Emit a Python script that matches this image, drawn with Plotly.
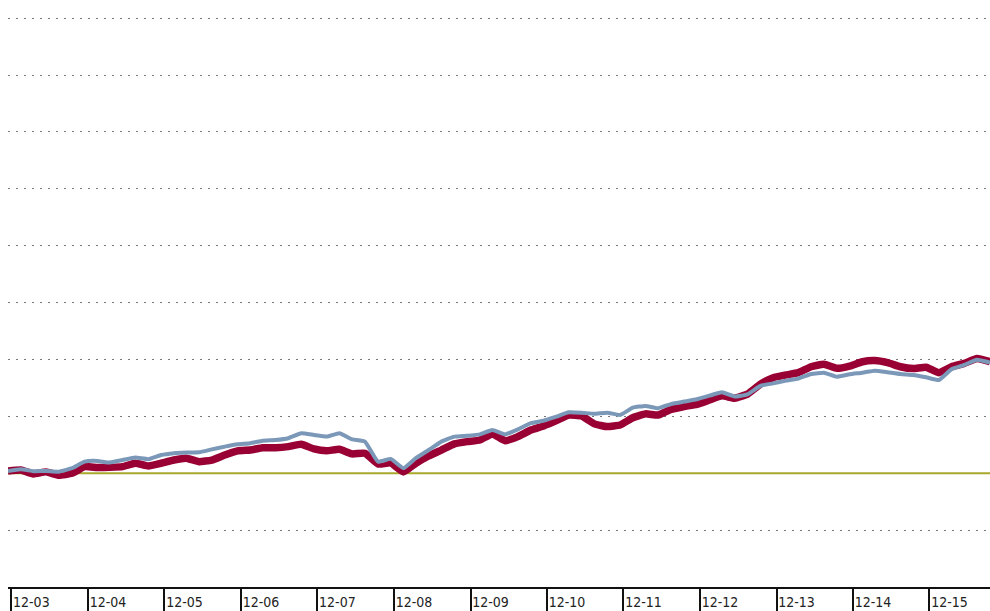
import pandas as pd
import plotly.graph_objects as go

# Bi-monthly observation dates, mid-month (index base = 100)
dates = pd.date_range("2003-11-01", periods=78, freq="2MS") + pd.Timedelta(days=14)

# Portfolio (thick red line)
portfolio = [
    101.0, 101.4, 99.7, 100.6, 99.1, 100.0, 102.9, 102.5, 102.6, 102.9,
    104.4, 103.2, 104.4, 105.8, 106.6, 105.1, 105.8, 108.0, 109.8, 110.2,
    111.2, 111.2, 111.7, 112.7, 110.7, 109.9, 110.5, 108.5, 108.8, 104.1,
    104.5, 100.6, 104.4, 107.6, 110.2, 112.9, 113.9, 114.6, 117.3, 114.3,
    116.1, 119.0, 120.8, 123.1, 125.6, 125.2, 121.7, 120.5, 121.2, 124.4,
    126.1, 125.6, 128.1, 129.3, 130.3, 132.2, 134.0, 133.0, 134.8, 139.2,
    142.0, 143.2, 144.2, 146.8, 147.9, 146.1, 147.1, 149.0, 149.5, 148.6,
    146.8, 146.0, 146.6, 144.2, 146.8, 148.3, 150.4, 149.0,
]

# Benchmark (thin blue line)
benchmark = [
    101.0, 101.7, 100.9, 101.0, 100.7, 102.2, 105.1, 105.4, 104.7, 105.8,
    106.9, 106.2, 108.0, 108.8, 109.1, 109.2, 110.5, 111.7, 112.7, 113.2,
    114.3, 114.6, 115.4, 117.6, 116.8, 116.1, 117.6, 114.9, 113.9, 105.1,
    106.3, 102.2, 106.6, 110.2, 113.9, 116.1, 116.5, 117.1, 119.0, 117.1,
    119.3, 122.0, 123.1, 124.9, 126.8, 126.6, 126.1, 126.6, 125.6, 128.8,
    129.6, 128.6, 130.4, 131.5, 132.5, 134.1, 135.6, 133.7, 134.7, 138.4,
    139.5, 140.7, 141.6, 143.6, 144.2, 142.4, 143.5, 144.2, 145.1, 144.4,
    143.6, 143.2, 142.2, 141.0, 145.7, 147.6, 149.9, 148.6,
]

# Year ticks and labels
tick_dates = pd.date_range("2003-12-01", periods=13, freq="12MS")
tick_labels = ["12-03", "12-04", "12-05", "12-06", "12-07", "12-08", "12-09",
               "12-10", "12-11", "12-12", "12-13", "12-14", "12-15"]

grid_levels = [75, 125, 150, 175, 200, 225, 250, 275, 300]
base_level = 100

RED = "#990033"
BLUE = "#7b98b9"
OLIVE = "#a9a72a"

fig = go.Figure()
fig.add_trace(go.Scatter(x=dates, y=portfolio, mode="lines",
                         line=dict(color=RED, width=7.5, shape="spline", smoothing=0.4),
                         hoverinfo="skip", showlegend=False))
fig.add_trace(go.Scatter(x=dates, y=benchmark, mode="lines",
                         line=dict(color=BLUE, width=4, shape="spline", smoothing=0.4),
                         hoverinfo="skip", showlegend=False))

fig.add_shape(type="line", xref="paper", x0=0, x1=1, yref="y",
              y0=base_level, y1=base_level, layer="below",
              line=dict(color=OLIVE, width=2))

fig.update_layout(
    width=990, height=611,
    margin=dict(l=8, r=0, t=0, b=24),
    paper_bgcolor="white", plot_bgcolor="white",
    font=dict(family="Liberation Sans Narrow, DejaVu Sans Condensed, sans-serif",
              size=14, color="#222222"),
    xaxis=dict(
        range=[dates[0], dates[-1]],
        tickmode="array", tickvals=tick_dates, ticktext=tick_labels,
        ticks="outside", ticklen=24, tickwidth=2, tickcolor="#111111",
        showline=True, linecolor="#111111", linewidth=2,
        showgrid=False, zeroline=False, automargin=False,
        ticklabelshift=20, ticklabelstandoff=-23,
    ),
    yaxis=dict(
        range=[50, 308],
        tickmode="array", tickvals=grid_levels,
        showticklabels=False, ticks="", automargin=False,
        showgrid=True, gridcolor="#777777", gridwidth=1, griddash="2px,6px",
        showline=False, zeroline=False,
    ),
)

fig.write_html("out.html")
